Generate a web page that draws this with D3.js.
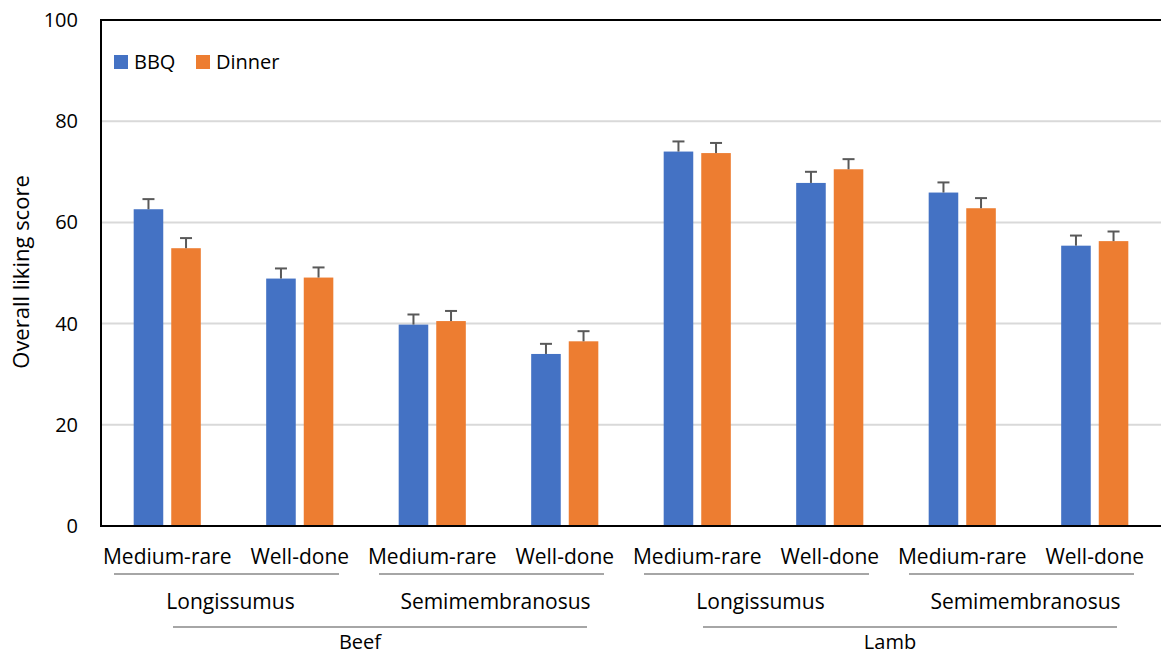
<!DOCTYPE html>
<html>
<head>
<meta charset="utf-8">
<script src="https://cdn.jsdelivr.net/npm/d3@7"></script>
<style>
  body { margin: 0; background: #fff; }
  svg { display: block; font-family: "Open Sans", "Liberation Sans", sans-serif; }
</style>
</head>
<body>
<div id="chart"></div>
<script>
// data
var series = ["BBQ", "Dinner"];
var species = ["Beef", "Lamb"];
var muscles = ["Longissumus", "Semimembranosus"];
var doneness = ["Medium-rare", "Well-done"];
var bbq    = [62.6, 48.9, 39.8, 34.0, 74.0, 67.8, 65.9, 55.4];
var dinner = [54.9, 49.1, 40.5, 36.5, 73.7, 70.5, 62.8, 56.3];
var bbqErr    = [2.0, 2.0, 2.0, 2.0, 2.0, 2.2, 2.0, 2.0];
var dinnerErr = [2.0, 2.0, 2.0, 2.0, 2.0, 2.0, 2.0, 1.9];
var yTicks = [0, 20, 40, 60, 80, 100];

var colors = {BBQ: "#4472C4", Dinner: "#ED7D31"};

var width = 1161, height = 654;
var margin = {left: 101, right: 0, top: 20, bottom: 128};

// one row per bar-pair
var cats = [];
species.forEach(function(s) {
    muscles.forEach(function(m) {
        doneness.forEach(function(d) {
            cats.push({sp: s, mu: m, dn: d, key: s + "|" + m + "|" + d});
        });
    });
});
cats.forEach(function(c, i) {
    c.BBQ = bbq[i]; c.BBQerr = bbqErr[i];
    c.Dinner = dinner[i]; c.Dinnererr = dinnerErr[i];
});

var svg = d3.select("#chart").append("svg")
    .attr("width", width)
    .attr("height", height);

var x = d3.scaleBand()
    .domain(cats.map(function(c) { return c.key; }))
    .range([margin.left, width - margin.right]);

var xInner = d3.scaleBand()
    .domain(series)
    .range([0, x.bandwidth()])
    .paddingInner(0.213)
    .paddingOuter(0.87);

var y = d3.scaleLinear().domain([0, 100]).range([height - margin.bottom, margin.top]);

// gridlines
svg.append("g")
    .selectAll("line")
    .data(yTicks.filter(function(t) { return t > 0 && t < 100; }))
    .enter().append("line")
    .attr("x1", margin.left).attr("x2", width - margin.right)
    .attr("y1", function(d) { return y(d); })
    .attr("y2", function(d) { return y(d); })
    .attr("stroke", "#d9d9d9")
    .attr("stroke-width", 2);

// bars
var groups = svg.append("g")
    .selectAll("g")
    .data(cats)
    .enter().append("g")
    .attr("transform", function(d) { return "translate(" + x(d.key) + ",0)"; });

series.forEach(function(s) {
    groups.append("rect")
        .attr("x", xInner(s))
        .attr("width", xInner.bandwidth())
        .attr("y", function(d) { return y(d[s]); })
        .attr("height", function(d) { return y(0) - y(d[s]); })
        .attr("fill", colors[s]);

    var cx = xInner(s) + xInner.bandwidth() / 2;
    groups.append("line")
        .attr("x1", cx).attr("x2", cx)
        .attr("y1", function(d) { return y(d[s]); })
        .attr("y2", function(d) { return y(d[s] + d[s + "err"]); })
        .attr("stroke", "#595959")
        .attr("stroke-width", 2);
    groups.append("line")
        .attr("x1", cx - 6).attr("x2", cx + 6)
        .attr("y1", function(d) { return y(d[s] + d[s + "err"]); })
        .attr("y2", function(d) { return y(d[s] + d[s + "err"]); })
        .attr("stroke", "#595959")
        .attr("stroke-width", 2);
});

// axes frame
svg.append("line")
    .attr("x1", margin.left).attr("x2", width)
    .attr("y1", y(100)).attr("y2", y(100))
    .attr("stroke", "#000").attr("stroke-width", 2);
svg.append("line")
    .attr("x1", margin.left).attr("x2", margin.left)
    .attr("y1", y(100) - 1).attr("y2", y(0) + 1)
    .attr("stroke", "#000").attr("stroke-width", 2);
svg.append("line")
    .attr("x1", margin.left - 1).attr("x2", width)
    .attr("y1", y(0)).attr("y2", y(0))
    .attr("stroke", "#000").attr("stroke-width", 2);

// y tick labels
svg.append("g")
    .selectAll("text")
    .data(yTicks)
    .enter().append("text")
    .attr("x", 78)
    .attr("y", function(d) { return y(d); })
    .attr("dy", "0.35em")
    .attr("text-anchor", "end")
    .attr("font-size", 20)
    .attr("fill", "#000")
    .text(function(d) { return d; });

svg.append("text")
    .attr("transform", "translate(29,272) rotate(-90)")
    .attr("text-anchor", "middle")
    .attr("font-size", 22)
    .attr("fill", "#000")
    .text("Overall liking score");

// x labels, level 1
svg.append("g")
    .selectAll("text")
    .data(cats)
    .enter().append("text")
    .attr("x", function(d) { return x(d.key) + x.bandwidth() / 2; })
    .attr("y", 564)
    .attr("text-anchor", "middle")
    .attr("font-size", 21)
    .attr("fill", "#000")
    .text(function(d) { return d.dn; });

// level 2: muscle
var muscleGroups = [];
species.forEach(function(s) {
    muscles.forEach(function(m) {
        var keys = cats.filter(function(c) { return c.sp === s && c.mu === m; });
        muscleGroups.push({
            name: m,
            x0: x(keys[0].key),
            x1: x(keys[keys.length - 1].key) + x.bandwidth()
        });
    });
});
svg.append("g")
    .selectAll("line")
    .data(muscleGroups)
    .enter().append("line")
    .attr("x1", function(d) { return d.x0 + 13; })
    .attr("x2", function(d) { return d.x1 - 27; })
    .attr("y1", 574).attr("y2", 574)
    .attr("stroke", "#a6a6a6").attr("stroke-width", 2);
svg.append("g")
    .selectAll("text")
    .data(muscleGroups)
    .enter().append("text")
    .attr("x", function(d) { return (d.x0 + d.x1) / 2 - 3; })
    .attr("y", 609)
    .attr("text-anchor", "middle")
    .attr("font-size", 21)
    .attr("fill", "#000")
    .text(function(d) { return d.name; });

// level 3: species
var speciesGroups = species.map(function(s) {
    var keys = cats.filter(function(c) { return c.sp === s; });
    return {
        name: s,
        x0: x(keys[0].key),
        x1: x(keys[keys.length - 1].key) + x.bandwidth()
    };
});
svg.append("g")
    .selectAll("line")
    .data(speciesGroups)
    .enter().append("line")
    .attr("x1", function(d) { return d.x0 + 72; })
    .attr("x2", function(d) { return d.x1 - 44; })
    .attr("y1", 627).attr("y2", 627)
    .attr("stroke", "#a6a6a6").attr("stroke-width", 2);
svg.append("g")
    .selectAll("text")
    .data(speciesGroups)
    .enter().append("text")
    .attr("x", function(d) { return (d.x0 + d.x1) / 2 - 6; })
    .attr("y", 649)
    .attr("text-anchor", "middle")
    .attr("font-size", 20)
    .attr("fill", "#000")
    .text(function(d) { return d.name; });

// legend
var legend = svg.append("g").attr("transform", "translate(114,55)");
var legX = [0, 82];
series.forEach(function(s, i) {
    legend.append("rect")
        .attr("x", legX[i]).attr("y", 0)
        .attr("width", 14).attr("height", 14)
        .attr("fill", colors[s]);
    legend.append("text")
        .attr("x", legX[i] + 20).attr("y", 7)
        .attr("dy", "0.35em")
        .attr("font-size", 20)
        .attr("fill", "#000")
        .text(s);
});
</script>
</body>
</html>
